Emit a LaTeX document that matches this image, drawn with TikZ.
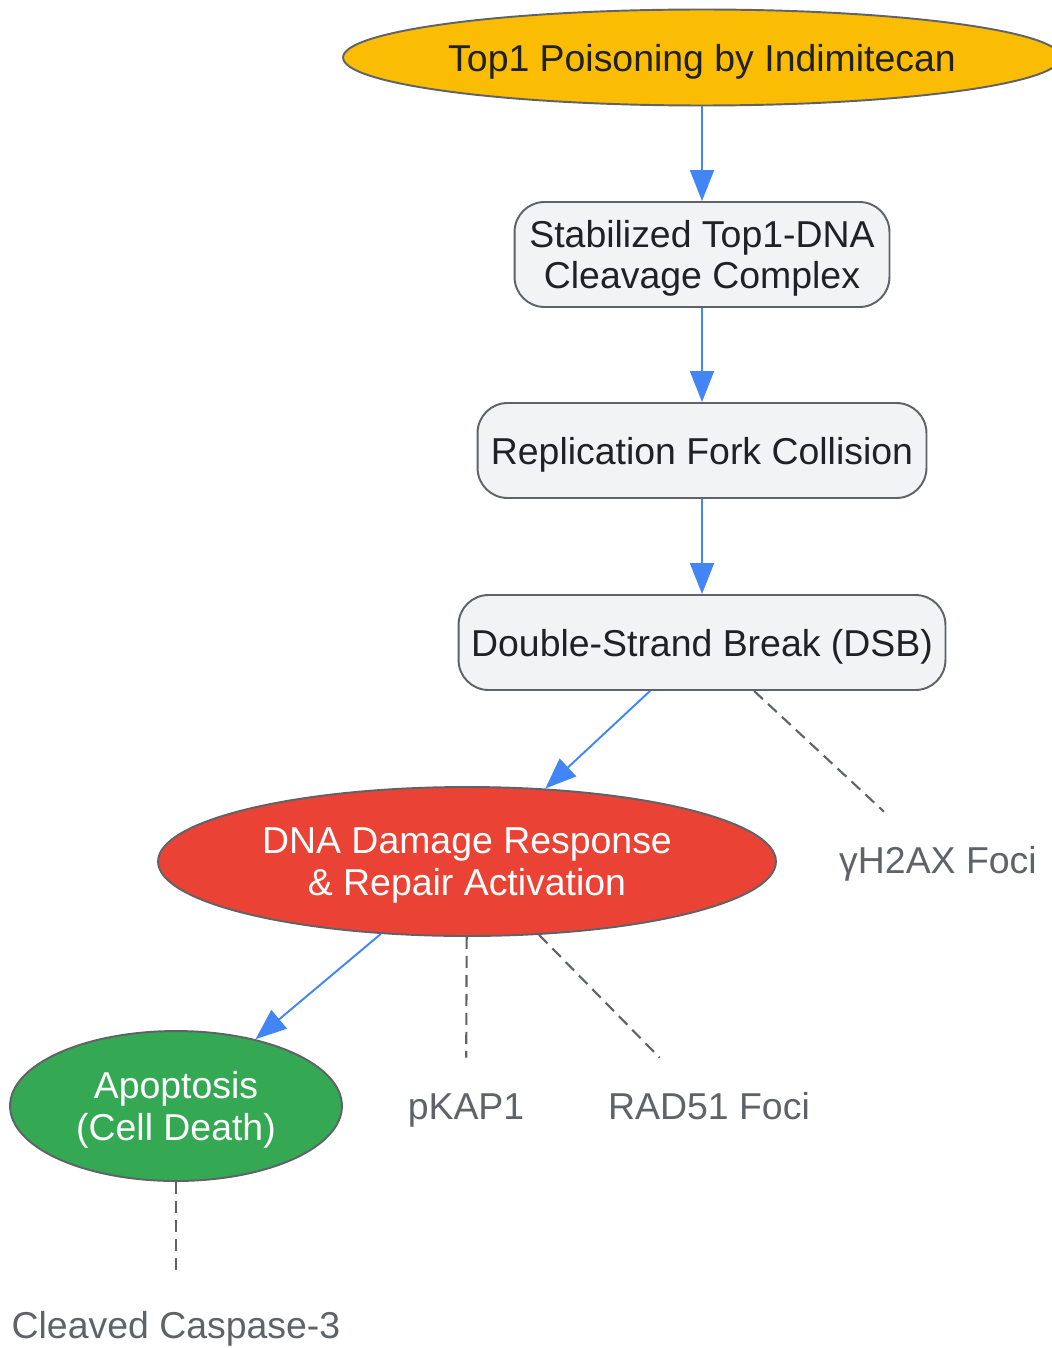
\documentclass[tikz,border=0pt]{standalone}
\usepackage{fontspec}
\setmainfont{Liberation Sans}
\usetikzlibrary{shapes.geometric,arrows.meta}
\definecolor{gyellow}{HTML}{FBBC04}
\definecolor{gred}{HTML}{EA4335}
\definecolor{ggreen}{HTML}{34A853}
\definecolor{gblue}{HTML}{4285F4}
\definecolor{boxfill}{HTML}{F1F3F4}
\definecolor{rim}{HTML}{5F6368}
\definecolor{ink}{HTML}{202124}

\begin{document}
\begin{tikzpicture}[x=0.02cm, y=-0.02cm,
    font=\fontsize{21.3}{23.5}\selectfont,
    oval/.style = {draw=rim, line width=1.1pt, ellipse, inner sep=0pt, align=center, text depth=-5.3pt},
    step box/.style = {draw=rim, line width=1.1pt, fill=boxfill, text=ink, rounded corners=0.6cm, inner sep=0pt, align=center, text depth=-5.3pt},
    marker/.style = {text=rim, minimum height=2cm, inner xsep=0.2cm, text height=1.3em, text depth=0pt},
    flow/.style = {gblue, line width=1.1pt, -{Triangle[length=0.62cm, width=0.48cm]}},
    probe/.style = {rim, line width=1.2pt, dash pattern=on 0.24cm off 0.14cm}]
		\useasboundingbox (0,0) rectangle (1051,1348);
		\node[oval] (1) at (702,57.5) [fill=gyellow, text=ink, minimum width=14.2cm, minimum height=1.92cm] {Top1 Poisoning by Indimitecan};
		\node[step box] (2) at (702,254.5) [minimum width=7.5cm, minimum height=2.1cm] {Stabilized Top1-DNA\\Cleavage Complex};
		\node[step box] (3) at (702,450.5) [minimum width=8.98cm, minimum height=1.9cm] {Replication Fork Collision};
		\node[step box] (4) at (702,642.5) [minimum width=9.74cm, minimum height=1.9cm] {Double-Strand Break (DSB)};
		\node[oval] (5) at (467,861.5) [fill=gred, text=white, minimum width=12.36cm, minimum height=2.98cm] {DNA Damage Response\\\& Repair Activation};
		\node[oval] (6) at (176,1106) [fill=ggreen, text=white, minimum width=6.64cm, minimum height=3cm] {Apoptosis\\(Cell Death)};
		\node[marker] (7) at (938,862) {γH2AX Foci};
		\node[marker] (8) at (466,1108) {pKAP1};
		\node[marker] (9) at (709,1108) {RAD51 Foci};
		\node[marker] (10) at (176,1327) {Cleaved Caspase-3};
		\path[flow] (1) edge (2)
			(2) edge (3)
			(3) edge (4)
			(4) edge (5)
			(5) edge (6);
		\path[probe] (4) edge (7)
			(5) edge (8)
			(5) edge (9)
			(6) edge (10);
	\end{tikzpicture}
\end{document}
